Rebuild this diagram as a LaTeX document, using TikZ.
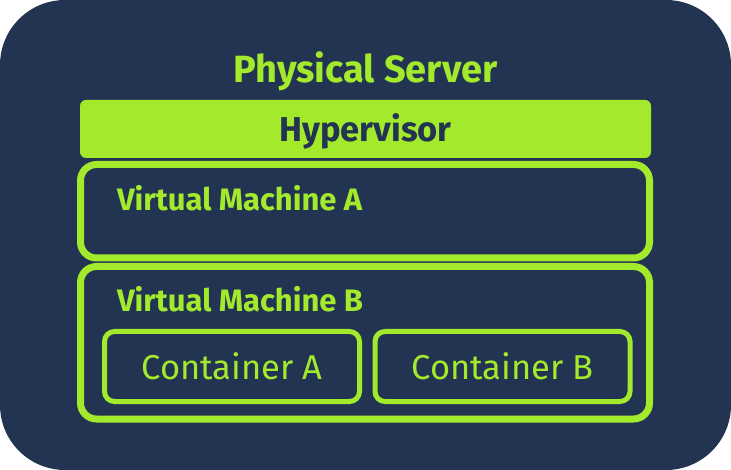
\documentclass[tikz,border=0pt]{standalone}
\usepackage{fontspec}
\setmainfont{Fira Sans}
\definecolor{navy}{HTML}{223452}
\definecolor{lime}{HTML}{A3E92C}
\begin{document}
\begin{tikzpicture}[x=1pt,y=-1pt,
  every node/.style={inner sep=0pt,outer sep=0pt},
  vmbox/.style={draw=lime,line width=7pt,rounded corners=16pt,rectangle,minimum width=569pt},
  ctbox/.style={draw=lime,line width=5pt,rounded corners=10pt,rectangle,minimum width=255pt,minimum height=70pt},
  bigtitle/.style={text=lime,font=\fontsize{38}{40}\selectfont\bfseries,anchor=base},
  hvtext/.style={text=navy,font=\fontsize{34.5}{37}\selectfont\bfseries,anchor=base},
  vmtext/.style={text=lime,font=\fontsize{31}{35}\selectfont\bfseries,anchor=base west},
  cttext/.style={text=lime,font=\fontsize{34.5}{37}\selectfont,anchor=base}]
\useasboundingbox (0,0) rectangle (731,470);
\fill[navy,rounded corners=65pt] (0,0) rectangle (731,470);
\node[bigtitle] (title) at (365.5,83) {Physical Server};
\node[fill=lime,rounded corners=6pt,rectangle,minimum width=571pt,minimum height=58pt] (hv) at (365.5,129) {};
\node[hvtext] (hvlabel) at (365.5,142) {Hypervisor};
\node[vmbox,minimum height=93.5pt] (vma) at (365,211.25) {};
\node[vmtext] (vmalabel) at (117,211) {Virtual Machine A};
\node[vmbox,minimum height=152.5pt] (vmb) at (365,342.75) {};
\node[vmtext] (vmblabel) at (117,312) {Virtual Machine B};
\node[ctbox] (ca) at (232,366.5) {};
\node[cttext] (calabel) at (232,379) {Container A};
\node[ctbox] (cb) at (502.5,366.5) {};
\node[cttext] (cblabel) at (502.5,379) {Container B};
\end{tikzpicture}
\end{document}
